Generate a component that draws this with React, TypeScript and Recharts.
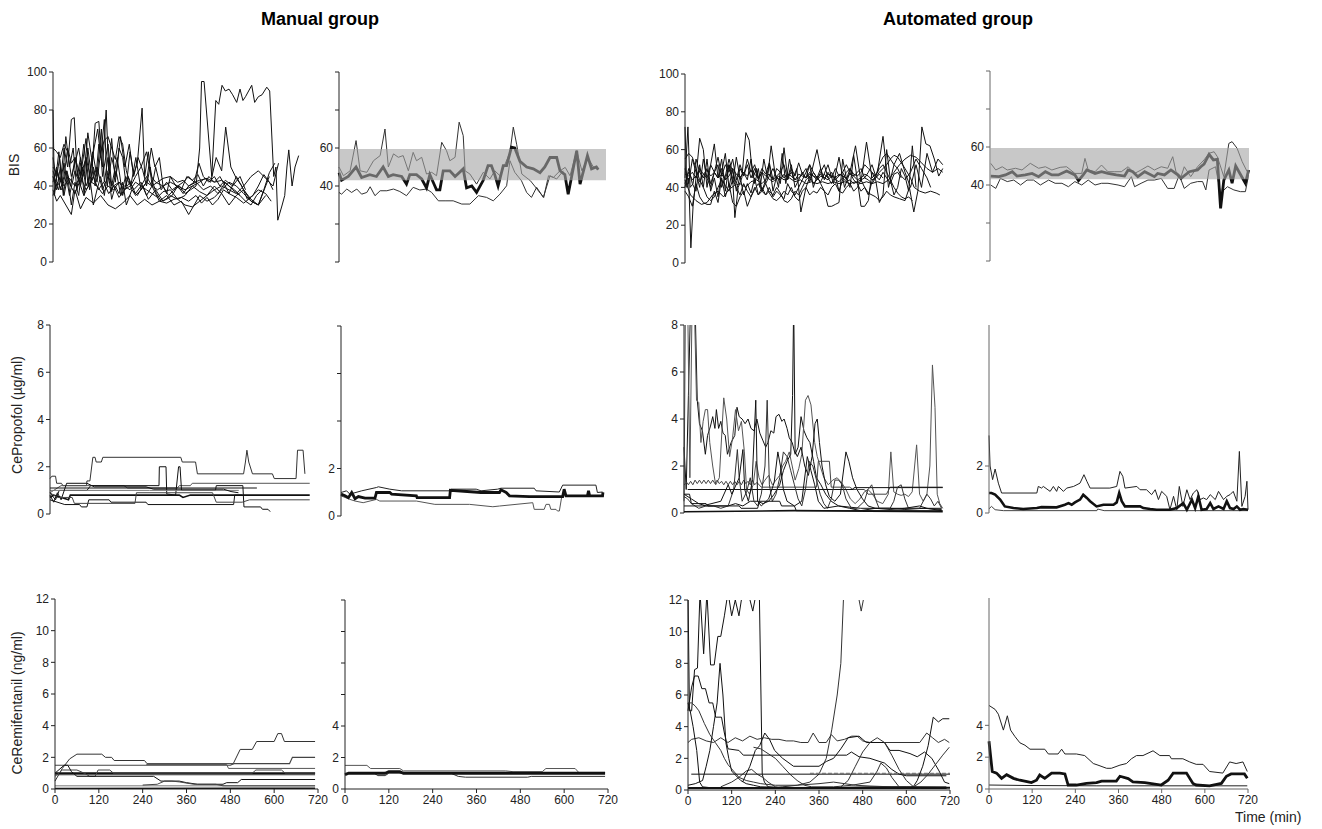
import React from "react";
import { LineChart, Line, XAxis, YAxis, ReferenceArea } from "recharts";

type Pt = [number, number];

const T_TICKS = [0, 120, 240, 360, 480, 600, 720];
const BIS_TICKS = [0, 20, 40, 60, 80, 100];
const PROP_TICKS = [0, 2, 4, 6, 8];
const REMI_TICKS = [0, 2, 4, 6, 8, 10, 12];
const BIS_BAND: Pt = [43, 59.5];

// ---------- manual group, BIS (all patients) ----------
const manBis1: Pt[] = [[0,45],[15,38],[30,52],[45,35],[60,48],[75,40],[90,55],[105,42],[120,50],[135,38],[150,45],[165,40],[180,42],[195,38],[210,40],[225,35],[240,38],[255,42],[270,40],[285,38],[300,40],[315,35],[330,38],[345,40],[360,36],[375,38],[390,40],[400,60],[405,95],[412,95],[433,45],[444,85],[452,83],[461,93],[470,90],[480,91],[490,88],[501,84],[510,91],[518,85],[525,87],[542,93],[550,84],[560,87],[570,88],[583,92],[591,90],[602,45],[608,50],[613,22],[625,30],[632,35],[638,50],[643,59],[652,40],[660,50],[670,56]];
const manBis2: Pt[] = [[0,80],[4,35],[12,48],[20,42],[30,60],[40,50],[50,75],[58,76],[66,45],[75,55],[85,35],[95,60],[105,45],[115,73],[125,74],[135,45],[150,62],[160,40],[175,55],[190,35],[205,45],[220,38],[240,42],[255,35],[270,40],[290,32],[310,35],[330,30],[350,32],[370,25],[385,30],[400,35],[420,32],[440,34],[460,38],[480,42],[500,40],[520,36],[540,32],[560,30],[580,35]];
const manBis3: Pt[] = [[0,55],[8,45],[16,58],[25,40],[35,66],[45,50],[55,60],[65,38],[75,52],[85,45],[95,68],[105,55],[115,40],[125,62],[135,50],[145,80],[152,48],[160,65],[170,42],[180,60],[190,55],[200,40],[210,58],[220,46],[230,52],[243,81],[250,45],[260,58],[270,40],[280,50],[295,38],[310,42],[325,38],[340,40],[355,36],[370,40],[390,42],[410,38],[430,40],[450,36],[470,42],[490,38],[510,35]];
const manBis4: Pt[] = [[0,45],[10,38],[20,50],[30,35],[40,45],[50,30],[60,42],[70,35],[80,50],[90,40],[100,45],[110,30],[120,38],[130,45],[140,35],[150,48],[160,33],[170,40],[180,36],[190,42],[200,30],[215,38],[230,35],[245,40],[260,33],[280,38],[300,32],[320,35],[340,33],[360,35],[380,40],[400,37],[420,35],[440,40],[460,36],[480,30],[500,35],[520,38],[540,33],[560,30],[580,40],[590,45]];
const manBis5: Pt[] = [[0,38],[10,32],[20,35],[35,30],[50,25],[60,38],[75,28],[90,34],[110,31],[130,35],[150,30],[170,28],[190,31],[210,35],[230,30],[250,33],[270,30],[290,32],[310,31],[330,33],[350,34],[370,32],[390,35],[405,31],[420,34],[435,30],[450,33],[465,38],[480,36],[500,34],[520,31],[540,34],[560,38],[580,36],[595,32]];
const manBis6: Pt[] = [[0,48],[8,42],[18,55],[28,35],[38,48],[48,40],[60,55],[72,42],[84,62],[96,40],[108,58],[120,45],[132,70],[140,42],[150,55],[160,37],[172,48],[185,35],[198,45],[212,40],[226,55],[240,38],[255,42],[268,60],[278,50],[290,55],[300,40],[310,36],[320,45],[335,40],[350,38],[365,45],[380,43],[395,46],[410,40],[425,45],[440,42],[455,45],[470,40],[480,36],[500,45],[520,38],[540,32],[560,30],[575,38],[590,47],[605,52]];
const manBis7: Pt[] = [[0,60],[10,58],[20,55],[30,62],[40,58],[50,45],[60,52],[70,60],[80,48],[90,55],[100,38],[110,50],[120,42],[130,58],[140,64],[150,66],[160,60],[170,54],[180,66],[190,62],[200,48],[212,40],[225,45],[240,50],[255,58],[268,45],[280,42],[300,40],[320,42],[340,40],[360,38],[380,40],[400,42],[415,44],[430,42],[445,55],[460,48],[471,71],[485,50],[500,44],[515,40],[530,33],[545,35],[560,40],[575,46],[590,42],[600,38]];
const manBis8: Pt[] = [[0,35],[12,42],[24,38],[36,48],[48,40],[60,36],[72,42],[84,35],[96,40],[110,45],[124,38],[138,42],[152,36],[166,40],[180,34],[195,38],[210,42],[225,36],[240,40],[255,45],[270,40],[285,42],[300,44],[320,45],[340,42],[355,43],[370,40],[385,42],[400,43],[420,44],[440,42],[460,43],[480,40],[495,38],[510,35],[525,32],[540,30],[555,35],[570,38]];
const manBis9: Pt[] = [[0,42],[10,50],[20,38],[30,45],[40,60],[50,52],[60,55],[75,45],[90,65],[100,45],[112,60],[122,70],[130,55],[140,75],[148,40],[160,55],[172,45],[184,66],[196,50],[208,62],[220,45],[232,55],[245,48],[255,40],[265,50],[272,42],[282,36],[295,32],[310,33],[325,35],[340,40],[355,42],[370,45],[385,42],[398,52],[410,45],[425,42],[440,45],[455,40],[470,43],[490,40],[510,45],[525,38]];
const manBis10: Pt[] = [[0,50],[15,45],[30,40],[45,44],[60,40],[75,45],[90,38],[105,42],[120,40],[135,36],[150,40],[165,38],[180,42],[195,40],[210,38],[225,42],[240,40],[255,38],[270,36],[285,34],[300,37],[320,38],[340,33],[360,30],[380,29],[400,32],[420,35],[440,38],[460,40],[480,38],[500,36],[520,40],[540,45],[560,48],[580,44],[600,40],[615,52]];

// ---------- manual group, BIS (median and quartiles) ----------
const manBisMed: Pt[] = [[0,47],[7,43],[25,45],[46,50],[61,44.5],[83,46],[101,45],[119,50],[133,45],[146,46],[169,45],[182,41],[191,46],[209,46],[223,43.7],[236,39],[245,46],[254,42],[263,38],[272,38],[281,48],[299,48],[313,45],[335,49],[344,39],[358,40],[371,36.6],[389,43],[402,50.7],[411,50.7],[420,46],[429,40],[443,50.7],[452,50.7],[465,60.4],[474,60],[488,53],[506,50],[524,49],[542,47],[555,50],[569,55],[587,55],[596,48],[609,46],[618,35.7],[641,58.6],[650,41],[670,56],[681,49],[694,50],[699,48.6]];
const manBisHi: Pt[] = [[0,50],[12,45.4],[30,48],[46,63.9],[57,48],[75,47.2],[93,53.3],[111,56],[124,70],[133,50],[147,56.9],[160,55.1],[173,56],[187,48],[200,57.7],[209,53.3],[223,55.1],[236,46.3],[250,47.2],[263,45.4],[277,63],[290,58.6],[299,53.3],[313,55.1],[324,73.6],[335,66.5],[340,48],[353,46.3],[371,41],[389,47.2],[407,43.7],[420,48],[434,45.4],[448,51.6],[461,57.7],[470,71],[479,62],[493,46.3],[516,42.8],[534,38.4],[552,34],[565,45.4],[578,44.5],[596,48],[610,49.8],[623,45.4],[641,58.6],[655,48],[671,55],[686,50],[700,49]];
const manBisLo: Pt[] = [[0,36.6],[7,35.7],[21,38.4],[34,36.6],[48,38.4],[61,35.7],[75,36.6],[84,39.6],[97,34.9],[111,37.5],[129,37.5],[147,38.4],[164,37.1],[182,34.9],[200,39.3],[218,37.9],[236,38.4],[250,36.6],[268,32.2],[286,32.2],[308,32.2],[331,30.5],[353,30.5],[376,34.9],[398,34],[416,32.2],[434,35.7],[452,40.1],[461,53.3],[474,47.2],[492,42.8],[506,36.6],[519,34],[533,39.3],[551,34],[569,45.4],[587,43.7],[605,48]];

// ---------- automated group, BIS (all patients) ----------
const autoBis1: Pt[] = [[0,72],[5,40],[10,45],[16,8],[22,30],[30,45],[40,66],[50,60],[60,40],[70,52],[80,63],[90,45],[100,55],[110,38],[120,52],[130,45],[136,24],[145,40],[155,45],[166,69],[175,65],[185,45],[195,50],[205,40],[215,55],[225,45],[235,62],[245,48],[255,40],[265,58],[275,42],[285,55],[295,45],[305,50],[316,27],[330,40],[345,48],[360,60],[375,45],[390,52],[405,42],[420,56],[435,40],[450,48],[465,62],[480,43],[495,64],[510,45],[525,48],[540,67],[555,40],[570,52],[585,58],[600,48],[615,40],[630,52],[645,40],[660,58],[675,48],[690,50],[703,48]];
const autoBis2: Pt[] = [[0,45],[8,72],[14,40],[22,42],[30,55],[40,48],[50,45],[60,50],[70,42],[80,48],[90,52],[100,40],[110,46],[120,55],[130,48],[140,42],[150,50],[160,46],[170,52],[180,45],[190,50],[200,44],[210,48],[220,42],[230,46],[240,50],[250,45],[260,44],[270,47],[280,45],[290,48],[300,44],[310,45],[320,47],[330,45],[340,48],[350,46],[360,45],[370,47],[380,45],[390,44],[400,46],[410,44],[420,43],[430,45],[440,43],[450,44],[460,42],[470,43],[480,44],[490,45],[500,44],[510,42],[520,45],[530,48],[540,50],[550,52],[560,55],[570,57],[580,56],[590,53],[600,50],[615,45],[625,40],[640,38],[655,37],[670,38],[685,37],[695,36]];
const autoBis3: Pt[] = [[0,38],[10,35],[20,30],[30,42],[40,35],[50,32],[60,31],[70,31],[80,38],[90,32],[100,45],[110,35],[120,42],[130,32],[140,30],[150,35],[160,38],[170,30],[180,35],[190,40],[200,36],[210,38],[220,42],[230,37],[240,34],[250,33],[260,35],[270,38],[280,36],[290,40],[300,35],[310,33],[320,38],[330,40],[340,36],[350,38],[360,37],[370,40],[380,38],[390,36],[400,40],[410,42],[420,38],[430,37],[440,40],[450,42],[460,38],[470,40],[480,44],[490,40],[500,37],[510,36],[520,35],[530,33],[540,35],[550,38],[560,36],[570,35],[585,34],[600,33],[612,40],[624,27],[635,38],[646,72],[657,63],[668,62],[680,55],[692,46],[703,50]];
const autoBis4: Pt[] = [[0,42],[10,48],[20,44],[30,46],[40,43],[50,47],[60,45],[70,40],[80,48],[90,45],[100,50],[110,44],[120,52],[130,42],[140,56],[150,45],[160,48],[170,44],[180,55],[190,42],[200,50],[210,38],[220,44],[230,52],[240,38],[250,46],[260,42],[270,61],[280,45],[290,52],[300,40],[310,44],[320,48],[330,45],[340,52],[350,40],[360,46],[370,42],[380,38],[390,30],[400,30],[410,31],[420,32],[430,55],[440,45],[450,40],[460,57],[470,44],[480,30],[490,30],[500,33],[510,48],[520,44],[530,32],[540,36],[550,60],[560,44],[570,36],[580,40],[590,50],[600,46],[610,38],[620,62],[630,40]];
const autoBis5: Pt[] = [[0,47],[10,46],[20,48],[30,45],[40,50],[50,47],[60,49],[70,46],[80,48],[90,45],[100,47],[110,44],[120,46],[130,50],[140,47],[150,45],[160,48],[170,46],[180,49],[190,47],[200,45],[210,48],[220,46],[230,47],[240,44],[250,46],[260,48],[270,45],[280,47],[290,46],[300,44],[310,47],[320,46],[330,45],[340,47],[350,46],[360,44],[370,46],[380,45],[390,47],[400,46],[410,45],[420,47],[430,46],[440,45],[450,47],[460,46],[470,44],[480,45],[490,47],[500,46],[510,44],[520,45],[530,47],[540,45]];
const autoBis6: Pt[] = [[0,40],[10,50],[20,42],[30,38],[40,52],[50,40],[60,55],[70,38],[80,45],[90,35],[100,48],[110,58],[120,40],[130,50],[140,38],[150,46],[160,36],[170,42],[180,37],[190,45],[200,36],[210,40],[220,36],[230,38],[240,36],[250,40],[260,37],[270,33],[280,32],[290,34],[300,38],[310,36],[320,40],[330,44],[340,46],[350,42],[360,44],[370,48],[380,52],[390,45],[400,42],[410,46],[420,38],[430,44],[440,48],[450,50],[460,47],[470,46],[480,48],[490,52],[500,50],[510,48],[520,46],[530,52],[540,56],[550,58],[560,55],[570,52],[580,50],[590,46],[600,44],[615,48],[630,55],[645,50],[660,45],[670,40]];
const autoBis7: Pt[] = [[0,50],[10,42],[20,55],[30,48],[40,40],[50,55],[60,45],[70,52],[80,48],[90,56],[100,46],[110,52],[120,48],[130,55],[140,44],[150,52],[160,46],[170,55],[180,48],[190,52],[200,45],[210,50],[220,47],[230,53],[240,44],[250,50],[260,48],[270,52],[280,44],[290,50],[300,46],[310,53],[320,47],[330,50],[340,43],[350,48],[360,45],[370,50],[380,44],[390,48],[400,45],[410,50],[420,46],[430,48],[440,44],[450,50],[460,46],[470,48],[480,50],[490,45],[500,48],[510,52],[520,46],[530,44],[540,48],[550,45],[560,42],[570,47],[580,48],[590,45]];
const autoBis8: Pt[] = [[0,44],[15,36],[30,33],[45,31],[60,32],[75,36],[90,38],[105,35],[120,39],[135,41],[150,42],[165,40],[180,43],[195,44],[210,42],[225,45],[240,43],[255,46],[270,44],[285,45],[300,43],[315,44],[330,42],[345,43],[360,42],[375,43],[390,42],[405,43],[420,42],[435,43],[450,42],[465,43],[480,42],[495,43],[510,42],[525,43],[540,42],[555,44],[570,48],[585,52],[600,55],[615,57],[630,56],[645,53],[660,50],[675,48],[690,55],[703,52]];
const autoBis9: Pt[] = [[0,55],[10,58],[20,56],[30,50],[40,44],[50,40],[60,35],[70,33],[80,35],[90,40],[100,44],[110,41],[120,38],[130,44],[140,40],[150,36],[160,42],[170,38],[180,35],[190,39],[200,42],[210,38],[220,36],[230,40],[240,35],[250,38],[260,36],[270,34],[280,42],[290,38],[300,36],[310,40],[320,44],[330,48],[340,52],[350,48],[360,45],[370,43],[380,47],[390,45],[400,48],[410,44],[420,46],[430,48],[440,52],[450,48],[460,44],[470,42],[480,38],[490,40],[500,36],[510,43],[520,46],[530,50],[540,52],[550,48],[560,44],[570,40],[580,37],[590,35],[600,34],[610,35],[620,33]];

// ---------- automated group, BIS (median and quartiles) ----------
const autoBisMed: Pt[] = [[2,44.7],[25,44.4],[43,45.3],[62,47],[75,44.7],[98,45.3],[117,46.1],[135,44.4],[154,47],[172,45.3],[190,45.3],[213,47.4],[236,45.3],[246,42.3],[259,45.3],[269,47.9],[292,46.1],[310,47],[328,46.1],[351,45.3],[374,44.7],[384,47.9],[397,47],[411,44.4],[430,47],[457,44.4],[466,46.1],[485,45.3],[503,47.9],[522,45.3],[531,43.5],[554,47],[577,47.9],[586,49.6],[595,51],[609,56.1],[621,53.2],[632,53.5],[641,27.7],[650,42.6],[664,47.9],[673,40.9],[683,50],[692,47],[710,40.9],[719,47.9]];
const autoBisHi: Pt[] = [[2,51.4],[16,47.9],[34,49.6],[48,47.9],[71,48.8],[89,47.9],[112,51.4],[135,48.8],[154,49.6],[172,47.9],[195,49.3],[213,49.6],[236,46.1],[255,46.1],[264,54],[273,47.9],[292,47],[310,50.5],[328,47],[347,47],[365,47],[384,49.6],[402,46.1],[420,47.9],[439,50],[457,47.9],[476,49.6],[494,48.8],[508,54.9],[517,47],[531,44.4],[540,49.6],[558,44.4],[577,49.6],[595,53.2],[609,56.7],[623,57.5],[632,54.9],[650,44.4],[664,61.9],[673,62.8],[687,59.3],[701,52.3],[715,47]];
const autoBisLo: Pt[] = [[2,40],[16,38.2],[29,43.5],[48,41.8],[66,42.6],[85,40],[103,42.6],[121,42.6],[140,40],[163,42.6],[181,40.9],[200,40.9],[218,39.1],[236,41.8],[255,40],[273,42.6],[292,40],[310,40.9],[328,40.9],[356,40],[374,39.1],[393,44.4],[402,39.1],[420,40.9],[439,42.6],[457,42.6],[476,43.5],[494,38.2],[512,38.2],[526,45.3],[540,38.2],[558,40.9],[577,41.8],[591,41.8],[600,37.4],[609,47.9],[627,49.6],[641,35.6],[660,39.1],[678,37.4],[696,36.5],[710,36.5],[719,45.3]];

// ---------- manual group, CePropofol ----------
const manProp1: Pt[] = [[0,1.5],[5,1.6],[15,1.6],[18,1.3],[31,1.3],[35,1.2],[99,1.2],[100,1.4],[108,1.4],[116,2.4],[122,2.4],[125,2.2],[139,2.2],[143,2.4],[354,2.4],[358,2.2],[394,2.2],[399,1.7],[524,1.7],[529,2.2],[533,2.7],[538,2.2],[548,1.7],[602,1.7],[607,1.5],[666,1.5],[670,2.7],[685,2.7],[690,1.7]];
const manProp2: Pt[] = [[0,0.9],[30,1.2],[200,1.2],[210,1.1],[345,1.1],[350,1.2],[380,1.2],[385,1.3],[703,1.3]];
const manProp3: Pt[] = [[0,0.7],[10,0.8],[50,0.6],[55,0.8],[350,0.8],[360,0.7],[380,0.8],[703,0.8]];
const manProp4: Pt[] = [[0,0.9],[15,0.6],[25,1.0],[100,1.0],[110,1.2],[295,1.2],[296,2.0],[314,2.0],[316,0.85],[340,0.8],[348,2.0],[352,2.0],[356,1.0],[448,1.0],[450,1.2],[522,1.2],[525,0.3],[570,0.3],[575,0.2],[590,0.2],[596,0.1]];
const manProp5: Pt[] = [[0,1.1],[560,1.1]];
const manProp6: Pt[] = [[0,0.6],[40,0.4],[80,0.4],[85,0.3],[100,0.3],[105,0.6],[160,0.6],[165,0.5],[260,0.5],[265,0.4],[497,0.4],[500,0.8],[520,0.8]];
const manProp7: Pt[] = [[0,1.0],[269,1.0],[511,1.0]];
const manProp8: Pt[] = [[0,0.8],[10,0.5],[20,0.9],[30,0.6],[45,1.3],[100,1.3],[120,1.15],[260,1.15],[280,1.05],[470,1.05],[490,0.95],[510,0.9]];
const manProp9: Pt[] = [[0,0.9],[20,0.7],[60,0.7],[66,0.45],[230,0.45],[234,0.9],[440,0.9],[450,0.5],[520,0.5],[540,0.6],[703,0.6]];

// ---------- manual group, CePropofol (median and quartiles) ----------
const manPropMed: Pt[] = [[0,0.92],[11,0.85],[20,0.77],[29,0.99],[38,0.73],[47,0.82],[65,0.75],[92,0.75],[96,0.99],[132,0.99],[137,0.92],[204,0.85],[206,0.77],[294,0.77],[296,1.08],[379,0.99],[429,0.99],[433,1.1],[447,0.99],[456,0.85],[510,0.82],[600,0.82],[604,1.13],[609,0.85],[667,0.85],[670,1.06],[673,0.85],[708,0.85],[709,1.0]];
const manPropHi: Pt[] = [[0,0.99],[15,1.06],[24,0.92],[56,1.06],[96,1.2],[101,1.23],[132,1.13],[164,1.06],[294,1.06],[298,1.13],[366,1.13],[379,1.06],[424,1.13],[433,1.17],[523,1.17],[528,1.06],[591,1.01],[600,1.3],[690,1.3],[694,0.99],[708,1.01]];
const manPropLo: Pt[] = [[0,0.85],[24,0.7],[38,0.63],[60,0.56],[96,0.7],[105,0.63],[204,0.63],[254,0.49],[348,0.49],[411,0.39],[429,0.42],[519,0.56],[523,0.28],[550,0.28],[555,0.49],[564,0.49],[568,0.28],[582,0.28],[586,0.21],[591,0.21],[597,0.77],[600,0.82]];

// ---------- automated group, CePropofol ----------
const autoProp1: Pt[] = [[0,2.8],[6,1.0],[12,5.0],[18,9],[30,9],[36,4.8],[42,3.8],[50,3.5],[58,2.5],[64,3.3],[72,3.7],[78,4.1],[84,3.6],[88,4.4],[94,3.6],[100,3.9],[106,3.4],[112,3.3],[118,2.5],[128,3.0],[138,3.3],[144,4.5],[150,4.1],[158,4.0],[166,3.8],[174,4.0],[182,3.6],[190,3.5],[198,4.0],[206,3.4],[214,3.1],[222,2.8],[228,3.0],[236,3.5],[244,3.4],[250,4.1],[258,4.2],[266,3.9],[272,4.0],[280,3.6],[286,3.2],[294,3.0],[302,2.5],[310,2.8],[318,4.1],[326,3.5],[334,3.2],[342,3.0],[352,2.2],[360,1.5],[372,1.2],[385,0.8],[400,0.5],[420,0.3],[480,0.2],[560,0.2],[600,0.15],[650,0.2],[700,0.15]];
const autoProp2: Pt[] = [[0,0.5],[4,9],[10,9],[16,1.5],[22,9],[28,9],[34,4.8],[40,4.7],[46,3.0],[52,3.9],[58,4.4],[64,4.4],[70,3.0],[78,2.0],[86,1.2],[96,1.5],[108,4.9],[116,4.0],[124,2.4],[132,3.2],[140,4.4],[148,3.5],[156,3.9],[164,2.6],[170,1.0],[178,0.8],[188,1.2],[196,2.2],[204,1.5],[212,1.2],[220,1.4],[230,1.6],[240,1.2],[250,1.4],[260,1.6],[268,2.0],[276,2.2],[286,2.6],[294,2.0],[302,1.4],[312,1.9],[320,2.5],[330,4.8],[337,5.0],[345,4.6],[355,3.0],[362,2.4],[370,2.0],[380,1.5],[392,1.2],[404,1.4],[416,1.5],[428,1.3],[440,1.0],[452,0.6],[465,0.4],[478,0.6],[490,0.9],[500,1.0],[512,0.8],[525,0.5],[540,0.4],[555,0.8],[562,2.6],[570,0.9],[580,0.8],[590,0.75],[600,0.8],[610,0.7],[620,0.9],[632,2.9],[640,0.8],[650,0.5],[660,0.8],[668,2.0],[675,6.3],[682,4.5],[688,0.8],[695,0.4],[703,0.2]];
const autoProp3: Pt[] = [[0,0.8],[20,0.6],[40,0.4],[60,0.3],[120,0.3],[140,0.4],[160,0.3],[180,0.5],[200,0.5],[215,0.4],[230,0.5],[245,0.8],[260,1.2],[270,1.8],[280,2.2],[290,2.5],[295,5.0],[298,9],[302,2.6],[308,2.4],[318,2.8],[328,2.0],[338,1.6],[348,2.4],[356,3.8],[362,4.0],[368,3.0],[375,2.0],[385,1.2],[395,0.7],[410,0.5],[425,0.8],[440,2.6],[448,2.2],[458,1.5],[470,1.0],[485,0.6],[500,0.3],[520,0.2],[700,0.2]];
const autoProp4: Pt[] = [[0,1.2],[8,1.3],[12,1.2],[18,1.35],[24,1.2],[30,1.4],[36,1.25],[42,1.4],[48,1.25],[54,1.4],[60,1.25],[66,1.4],[72,1.25],[78,1.4],[84,1.25],[90,1.4],[96,1.25],[102,1.35],[108,1.2],[114,1.35],[120,1.2],[126,1.35],[132,1.2],[138,1.35],[144,1.2],[150,1.35],[156,1.2],[162,1.4],[168,1.25],[174,1.35],[180,1.2],[186,1.4],[192,1.2],[198,1.3],[210,1.1],[360,1.1],[365,2.2],[395,2.2],[400,1.1],[450,1.1],[460,1.0],[490,1.0],[500,0.8],[550,0.8],[560,1.1],[703,1.1]];
const autoProp5: Pt[] = [[10,1.0],[460,1.0],[462,1.08],[703,1.08]];
const autoProp6: Pt[] = [[0,0.7],[10,0.6],[20,0.4],[30,0.3],[40,0.2],[60,0.3],[80,0.3],[100,0.2],[120,0.3],[135,1.0],[145,2.7],[150,1.5],[158,0.5],[170,0.9],[180,1.5],[190,0.5],[200,0.3],[210,0.8],[220,2.0],[226,4.8],[232,1.2],[240,0.5],[250,0.8],[260,1.5],[270,2.6],[280,2.4],[290,1.8],[300,1.2],[310,0.6],[320,0.3],[330,1.0],[340,2.2],[350,2.0],[360,1.4],[370,0.8],[380,0.4],[390,0.2],[400,0.6],[410,1.4],[420,1.4],[430,1.2],[440,0.6],[455,0.2],[470,0.2],[490,0.5],[500,1.0],[510,1.2],[520,0.6],[530,0.2],[560,0.2],[570,0.5],[580,1.1],[590,1.2],[600,0.6],[610,0.2],[640,0.2],[650,0.5],[660,0.8],[670,0.6],[680,0.3],[690,0.5],[700,0.2]];
const autoProp7: Pt[] = [[0,0.8],[15,0.8],[20,0.4],[60,0.4],[65,0.3],[150,0.3],[155,0.2],[200,0.2],[205,0.5],[260,0.5],[265,0.3],[300,0.3],[305,0.1],[703,0.1]];
const autoProp8: Pt[] = [[0,0.05],[300,0.1],[703,0.05]];
const autoProp9: Pt[] = [[0,0.3],[50,0.3],[100,0.5],[120,1.2],[130,0.8],[150,1.5],[160,2.7],[165,1.0],[175,0.5],[185,1.3],[195,4.8],[200,0.5],[210,0.3],[230,0.6],[245,1.3],[255,2.6],[262,2.0],[270,1.0],[280,0.5],[300,0.3],[320,0.5],[335,2.4],[345,1.8],[355,1.2],[365,0.5],[380,0.2],[420,0.3],[450,0.2],[480,0.1],[520,0.2],[560,0.15],[600,0.2],[640,0.3],[660,0.2],[700,0.1]];

// ---------- automated group, CePropofol (median and quartiles) ----------
const autoPropHi: Pt[] = [[0,3.3],[3,2.0],[10,1.42],[17,1.87],[26,1.27],[35,0.85],[133,0.85],[137,1.13],[146,1.06],[151,1.13],[170,0.92],[179,1.13],[188,0.92],[193,1.13],[207,0.92],[216,1.06],[235,1.13],[253,1.27],[264,1.63],[272,1.35],[281,1.06],[336,1.06],[355,1.13],[364,1.77],[372,1.56],[378,1.06],[411,1.13],[420,0.99],[438,0.99],[452,0.78],[462,0.99],[471,0.57],[480,0.92],[494,0.71],[503,0.14],[513,0.71],[522,0.14],[529,1.13],[539,0.28],[550,0.99],[559,0.57],[568,0.85],[578,0.99],[587,0.57],[596,0.64],[605,0.57],[615,0.78],[629,0.57],[638,0.92],[652,0.57],[661,0.71],[670,0.78],[679,0.92],[689,0.5],[696,2.62],[703,0.28],[712,0.71],[717,1.35],[720,0.14]];
const autoPropMed: Pt[] = [[0,0.85],[7,0.85],[17,0.78],[31,0.57],[44,0.28],[68,0.21],[95,0.17],[133,0.21],[146,0.25],[188,0.24],[211,0.35],[221,0.42],[230,0.35],[239,0.45],[253,0.57],[262,0.78],[272,0.64],[281,0.5],[299,0.28],[318,0.35],[346,0.35],[355,0.45],[362,0.85],[369,0.5],[378,0.28],[420,0.28],[429,0.21],[448,0.17],[466,0.14],[503,0.14],[522,0.21],[540,0.42],[550,0.14],[564,0.57],[573,0.21],[582,0.71],[591,0.14],[605,0.17],[615,0.42],[624,0.17],[638,0.28],[652,0.17],[661,0.5],[670,0.21],[680,0.17],[689,0.28],[698,0.14],[707,0.17],[720,0.14]];
const autoPropLo: Pt[] = [[0,0.18],[7,0.28],[17,0.14],[40,0.1],[300,0.1],[302,0.17],[320,0.1],[720,0.1]];

// ---------- manual group, CeRemifentanil ----------
const manRemi1: Pt[] = [[0,0.5],[10,0.9],[20,1.3],[40,1.9],[60,2.2],[128,2.2],[138,2.0],[155,2.0],[162,1.8],[245,1.8],[252,1.6],[488,1.6],[507,2.5],[540,2.5],[552,3.0],[600,3.0],[610,3.5],[620,3.5],[628,3.0],[712,3.0]];
const manRemi2: Pt[] = [[0,1.5],[480,1.5],[490,1.6],[642,1.6],[650,2.0],[712,2.0]];
const manRemi3: Pt[] = [[250,1.55],[470,1.55],[475,1.3],[712,1.3]];
const manRemi4: Pt[] = [[0,1.0],[712,1.0]];
const manRemi5: Pt[] = [[0,0.9],[712,0.9]];
const manRemi6: Pt[] = [[0,0.8],[20,1.2],[60,1.2],[80,1.0],[95,0.8],[110,0.8],[118,1.2],[150,1.2],[160,1.0],[540,1.0],[550,1.2],[620,1.2],[630,1.0],[712,1.0]];
const manRemi7: Pt[] = [[0,1.0],[25,1.5],[35,1.5],[45,1.1],[60,0.8],[270,0.8],[290,0.5],[340,0.5],[360,0.4],[390,0.3],[460,0.3],[470,0.4],[500,0.4],[510,0.6],[712,0.6]];
const manRemi8: Pt[] = [[0,0.2],[712,0.2]];
const manRemi9: Pt[] = [[0,0.03],[712,0.05]];
const manRemi10: Pt[] = [[240,0.25],[280,0.3],[300,0.5],[320,0.5],[340,0.45],[380,0.3],[440,0.3],[460,0.2],[712,0.2]];

// ---------- manual group, CeRemifentanil (median and quartiles) ----------
const manRemiHi: Pt[] = [[0,1.5],[60,1.5],[70,1.3],[150,1.3],[160,1.15],[440,1.15],[460,1.1],[540,1.1],[550,1.3],[630,1.3],[640,1.05],[712,1.05]];
const manRemiMed: Pt[] = [[0,0.9],[10,1.0],[110,1.0],[120,1.1],[150,1.1],[160,1.0],[712,1.0]];
const manRemiLo: Pt[] = [[0,1.0],[80,1.0],[90,0.85],[110,0.85],[120,1.0],[290,1.0],[310,0.8],[330,0.75],[500,0.75],[510,0.8],[712,0.8]];

// ---------- automated group, CeRemifentanil ----------
const autoRemi1: Pt[] = [[0,12.5],[4,5.0],[10,5.0],[18,7.6],[26,7.7],[33,12.5],[43,8.6],[52,12.5],[62,7.9],[72,7.9],[82,9.7],[90,9.7],[100,11],[110,12.5],[120,11],[130,12],[140,11],[150,12.5],[165,12.5],[178,11.3],[188,12.5],[196,12.5],[204,1.0],[210,0.5],[220,0.2],[260,0.1],[710,0.1]];
const autoRemi2: Pt[] = [[0,5.0],[10,6.5],[18,7.2],[28,7.2],[38,6.4],[48,6.4],[58,5.5],[68,5.5],[76,4.6],[92,4.6],[100,3.6],[110,2.6],[140,2.5],[152,2.2],[436,2.2],[449,2.4],[470,2.1],[500,2.0],[540,1.7],[560,1.3],[580,1.0],[600,0.9],[710,0.9]];
const autoRemi3: Pt[] = [[0,3.0],[10,3.2],[30,3.3],[50,3.1],[70,3.0],[90,3.3],[110,3.0],[130,3.3],[150,3.1],[170,3.4],[190,3.2],[210,3.3],[230,3.2],[250,3.2],[270,3.1],[290,3.1],[310,3.0],[330,3.0],[344,3.6],[360,3.0],[380,3.0],[394,3.5],[410,3.1],[430,3.2],[450,3.4],[465,3.4],[480,3.1],[500,3.0],[637,3.0],[656,3.6],[672,3.3],[688,3.0],[705,3.2],[718,3.0]];
const autoRemi4: Pt[] = [[0,0.1],[225,0.1],[260,0.2],[300,0.3],[335,0.5],[360,1.0],[380,2.0],[395,3.8],[410,6.0],[420,8.0],[428,12.5]];
const autoRemi4b: Pt[] = [[466,12.5],[476,11.3],[486,12.5]];
const autoRemi5: Pt[] = [[0,0.3],[20,0.4],[40,0.6],[50,1.5],[60,2.5],[70,4.0],[80,5.5],[88,8.0],[96,6.0],[104,3.0],[112,2.0],[120,1.2],[132,0.9],[145,0.6],[160,0.4],[180,0.3],[200,0.2],[300,0.15],[400,0.15],[500,0.2],[600,0.2],[710,0.15]];
const autoRemi6: Pt[] = [[0,5.5],[10,5.5],[20,5.3],[30,5.0],[45,4.2],[60,3.5],[75,3.0],[90,2.5],[100,2.0],[110,1.6],[125,1.2],[140,0.8],[160,0.6],[180,0.5],[200,0.4],[240,0.3],[300,0.3],[360,0.4],[400,0.5],[430,0.4],[460,0.3],[500,0.25],[560,0.2],[710,0.2]];
const autoRemi7: Pt[] = [[0,5.5],[6,5.0],[14,4.0],[24,2.5],[32,0.5],[40,0.2],[80,0.1],[710,0.1]];
const autoRemi8: Pt[] = [[90,0.2],[120,0.5],[140,0.8],[160,1.2],[175,1.3],[190,1.0],[205,0.8],[220,0.5],[240,0.2],[260,0.1]];
const autoRemi9: Pt[] = [[150,0.5],[170,1.5],[185,2.5],[197,2.8],[211,3.6],[224,3.2],[238,2.5],[260,2.0],[290,1.5],[360,1.5],[380,1.8],[400,2.0],[420,2.6],[440,3.3],[470,3.4],[490,3.0],[540,3.0],[555,2.5],[580,2.5],[610,2.3],[630,2.1],[650,2.4],[670,2.0],[690,1.2],[705,0.5],[718,0.4]];
const autoRemi10: Pt[] = [[180,2.7],[200,2.6],[220,2.3],[240,2.0],[260,1.5],[280,1.0],[300,0.6],[320,0.3],[340,0.2],[400,0.2],[450,0.3],[500,0.5],[520,1.2],[530,1.7],[545,1.4],[560,0.8],[580,0.2]];
const autoRemi11: Pt[] = [[9,1.0],[720,1.0]];
const autoRemi12: Pt[] = [[335,1.05],[720,1.05]];
const autoRemi13: Pt[] = [[600,0.1],[619,0.2],[630,0.6],[645,1.5],[660,2.8],[674,4.6],[688,4.3],[700,4.5],[718,4.5]];
const autoRemi14: Pt[] = [[620,0.2],[640,0.5],[660,1.0],[680,1.6],[700,2.2],[718,2.7]];
const autoRemi15: Pt[] = [[420,0.2],[440,0.6],[460,1.5],[480,2.4],[500,3.0],[520,3.3],[540,3.0],[560,2.2],[580,1.3],[600,0.6],[620,0.2],[640,0.1]];
const autoRemi16: Pt[] = [[0,0.12],[720,0.15]];

// ---------- automated group, CeRemifentanil (median and quartiles) ----------
const autoRemiHi: Pt[] = [[0,5.25],[17,5.0],[26,4.7],[40,3.7],[51,4.6],[60,3.7],[72,3.3],[86,2.9],[100,2.75],[114,2.5],[155,2.5],[165,2.2],[192,2.2],[202,2.5],[211,2.2],[243,2.2],[266,2.1],[290,1.6],[303,1.5],[327,1.3],[340,1.3],[364,1.5],[382,1.6],[396,1.9],[410,2.1],[428,2.1],[456,2.4],[475,2.1],[502,2.1],[507,1.9],[539,1.9],[558,1.7],[576,1.55],[595,1.55],[613,1.1],[650,1.0],[669,1.7],[687,1.6],[706,1.7],[718,1.1]];
const autoRemiMed: Pt[] = [[0,3.0],[9,1.1],[21,1.0],[35,0.67],[49,0.9],[68,0.67],[86,0.55],[109,0.45],[118,0.4],[132,0.55],[141,0.88],[155,0.67],[174,1.0],[197,1.0],[211,0.95],[220,0.25],[243,0.25],[271,0.35],[299,0.4],[313,0.5],[354,0.5],[364,0.8],[387,0.65],[400,0.45],[433,0.4],[447,0.35],[479,0.25],[498,0.55],[512,1.0],[549,1.0],[567,0.35],[576,0.25],[613,0.2],[646,0.35],[660,0.8],[673,0.95],[710,0.95],[718,0.67]];
const autoRemiLo: Pt[] = [[0,0.25],[100,0.22],[300,0.2],[718,0.2]];

type S = { d: Pt[]; c?: string; w?: number; dash?: string };

const toRows = (d: Pt[]) => d.map(([t, v]) => ({ t, v }));

const thin = (d: Pt[], c = "#111"): S => ({ d, c, w: 1 });
const thick = (d: Pt[]): S => ({ d, c: "#111", w: 2.8 });

interface PanelProps {
  x: number;
  y: number;
  w: number;
  h: number;
  max: number;
  ticks: number[];
  labels: number[];
  series: S[];
  band?: Pt;
  xAxis?: boolean;
  axisColor?: string;
}

function Panel({ x, y, w, h, max, ticks, labels, series, band, xAxis, axisColor = "#222" }: PanelProps) {
  const YW = 40;
  const PT = 12;
  const PR = 16;
  const PB = 12;
  const XH = 28;
  return (
    <div style={{ position: "absolute", left: x - YW, top: y - PT }}>
      <LineChart
        width={YW + w + PR}
        height={PT + h + (xAxis ? XH : PB)}
        margin={{ top: PT, right: PR, bottom: xAxis ? 0 : PB, left: 0 }}
      >
        <XAxis
          type="number"
          dataKey="t"
          domain={[0, 720]}
          ticks={T_TICKS}
          interval={0}
          hide={!xAxis}
          height={XH}
          tickSize={4}
          stroke={axisColor}
          tick={{ fontSize: 12, fill: "#222" }}
        />
        <YAxis
          type="number"
          domain={[0, max]}
          ticks={ticks}
          interval={0}
          allowDataOverflow
          width={YW}
          tickSize={4}
          stroke={axisColor}
          tick={{ fontSize: 12, fill: "#222" }}
          tickFormatter={(v: number) => (labels.includes(v) ? String(v) : "")}
        />
        {series.map((s, i) => (
          <Line
            key={i}
            data={toRows(s.d)}
            dataKey="v"
            type="linear"
            stroke={s.c ?? "#111"}
            strokeWidth={s.w ?? 1}
            strokeDasharray={s.dash}
            dot={false}
            activeDot={false}
            isAnimationActive={false}
          />
        ))}
        {band && (
          <ReferenceArea
            y1={band[0]}
            y2={band[1]}
            fill="#a4a4a4"
            fillOpacity={0.6}
            stroke="none"
            zIndex={900}
          />
        )}
      </LineChart>
    </div>
  );
}

function VLabel({ cx, cy, text }: { cx: number; cy: number; text: string }) {
  return (
    <div
      style={{
        position: "absolute",
        left: cx,
        top: cy,
        transform: "translate(-50%, -50%) rotate(-90deg)",
        whiteSpace: "nowrap",
        fontSize: 14,
        color: "#222",
      }}
    >
      {text}
    </div>
  );
}

export default function App() {
  return (
    <div
      style={{
        position: "absolute",
        left: 0,
        top: 0,
        width: 1322,
        height: 829,
        background: "#fff",
        fontFamily: "'Liberation Sans', Arial, sans-serif",
      }}
    >
      <div style={{ position: "absolute", left: 220, width: 200, top: 9, textAlign: "center", fontSize: 18, fontWeight: 700 }}>
        Manual group
      </div>
      <div style={{ position: "absolute", left: 858, width: 200, top: 9, textAlign: "center", fontSize: 18, fontWeight: 700 }}>
        Automated group
      </div>

      <VLabel cx={14} cy={165} text="BIS" />
      <VLabel cx={17} cy={415} text="CePropofol (µg/ml)" />
      <VLabel cx={17} cy={703} text="CeRemifentanil (ng/ml)" />

      {/* row 1: BIS */}
      <Panel
        x={53} y={72} w={264} h={190} max={100} ticks={BIS_TICKS} labels={BIS_TICKS}
        series={[manBis1, manBis2, manBis3, manBis4, manBis5, manBis6, manBis7, manBis8, manBis9, manBis10].map((d) => thin(d))}
      />
      <Panel
        x={339} y={72} w={267} h={190} max={100} ticks={BIS_TICKS} labels={[40, 60]} band={BIS_BAND}
        series={[thin(manBisHi, "#333"), thin(manBisLo, "#333"), thick(manBisMed)]}
      />
      <Panel
        x={685} y={74} w={264} h={189} max={100} ticks={BIS_TICKS} labels={BIS_TICKS}
        series={[autoBis1, autoBis2, autoBis3, autoBis4, autoBis5, autoBis6, autoBis7, autoBis8, autoBis9].map((d) => thin(d))}
      />
      <Panel
        x={990} y={71} w={259} h={190} max={100} ticks={BIS_TICKS} labels={[40, 60]} band={BIS_BAND} axisColor="#666"
        series={[thin(autoBisHi, "#333"), thin(autoBisLo, "#333"), thick(autoBisMed)]}
      />

      {/* row 2: CePropofol */}
      <Panel
        x={50} y={325} w={266} h={189} max={8} ticks={PROP_TICKS} labels={PROP_TICKS}
        series={[
          thin(manProp1, "#333"), thin(manProp2, "#555"), { d: manProp3, c: "#111", w: 1.6 }, thin(manProp4),
          thin(manProp5), thin(manProp6), thin(manProp7, "#777"), thin(manProp8), thin(manProp9, "#444"),
        ]}
      />
      <Panel
        x={341} y={326} w={266} h={190} max={8} ticks={PROP_TICKS} labels={[0, 2]}
        series={[thin(manPropHi, "#222"), thin(manPropLo, "#555"), thick(manPropMed)]}
      />
      <Panel
        x={684} y={325} w={265} h={188} max={8} ticks={PROP_TICKS} labels={PROP_TICKS}
        series={[
          thin(autoProp1), thin(autoProp2, "#555"), thin(autoProp3), thin(autoProp4, "#444"), thin(autoProp5),
          thin(autoProp6, "#333"), thin(autoProp7), { d: autoProp8, c: "#111", w: 1.6 }, thin(autoProp9),
        ]}
      />
      <Panel
        x={989} y={325} w={259} h={188} max={8} ticks={[0, 2]} labels={[0, 2]} axisColor="#666"
        series={[thin(autoPropHi, "#222"), thin(autoPropLo, "#444"), { d: autoPropMed, c: "#111", w: 2.6 }]}
      />

      {/* row 3: CeRemifentanil */}
      <Panel
        x={55} y={599} w={263} h={190} max={12} ticks={REMI_TICKS} labels={REMI_TICKS} xAxis
        series={[
          thin(manRemi1, "#333"), { d: manRemi2, c: "#444", w: 1.2 }, thin(manRemi3, "#555"), { d: manRemi4, c: "#111", w: 2 },
          thin(manRemi5, "#333"), thin(manRemi6, "#444"), thin(manRemi7), thin(manRemi8, "#777"), { d: manRemi9, c: "#111", w: 1.5 },
          thin(manRemi10, "#444"),
        ]}
      />
      <Panel
        x={345} y={600} w={263} h={189} max={12} ticks={REMI_TICKS} labels={[0, 2, 4]} xAxis
        series={[thin(manRemiHi, "#555"), thin(manRemiLo, "#333"), thick(manRemiMed)]}
      />
      <Panel
        x={688} y={600} w={262} h={190} max={12} ticks={REMI_TICKS} labels={REMI_TICKS} xAxis
        series={[
          thin(autoRemi1), thin(autoRemi2), thin(autoRemi3, "#333"), thin(autoRemi4, "#333"), thin(autoRemi4b, "#333"),
          thin(autoRemi5), thin(autoRemi6, "#333"), thin(autoRemi7), thin(autoRemi8, "#333"), thin(autoRemi9),
          thin(autoRemi10, "#333"), thin(autoRemi11), { d: autoRemi12, c: "#777", w: 1.4, dash: "4 2" },
          thin(autoRemi13), thin(autoRemi14, "#333"), thin(autoRemi15, "#333"), { d: autoRemi16, c: "#111", w: 2 },
        ]}
      />
      <Panel
        x={989} y={598} w={259} h={191} max={12} ticks={[0, 2, 4]} labels={[0, 2, 4]} xAxis axisColor="#666"
        series={[thin(autoRemiHi, "#222"), thin(autoRemiLo, "#222"), thick(autoRemiMed)]}
      />

      <div style={{ position: "absolute", left: 1235, top: 809, fontSize: 14, color: "#222" }}>Time (min)</div>
    </div>
  );
}
